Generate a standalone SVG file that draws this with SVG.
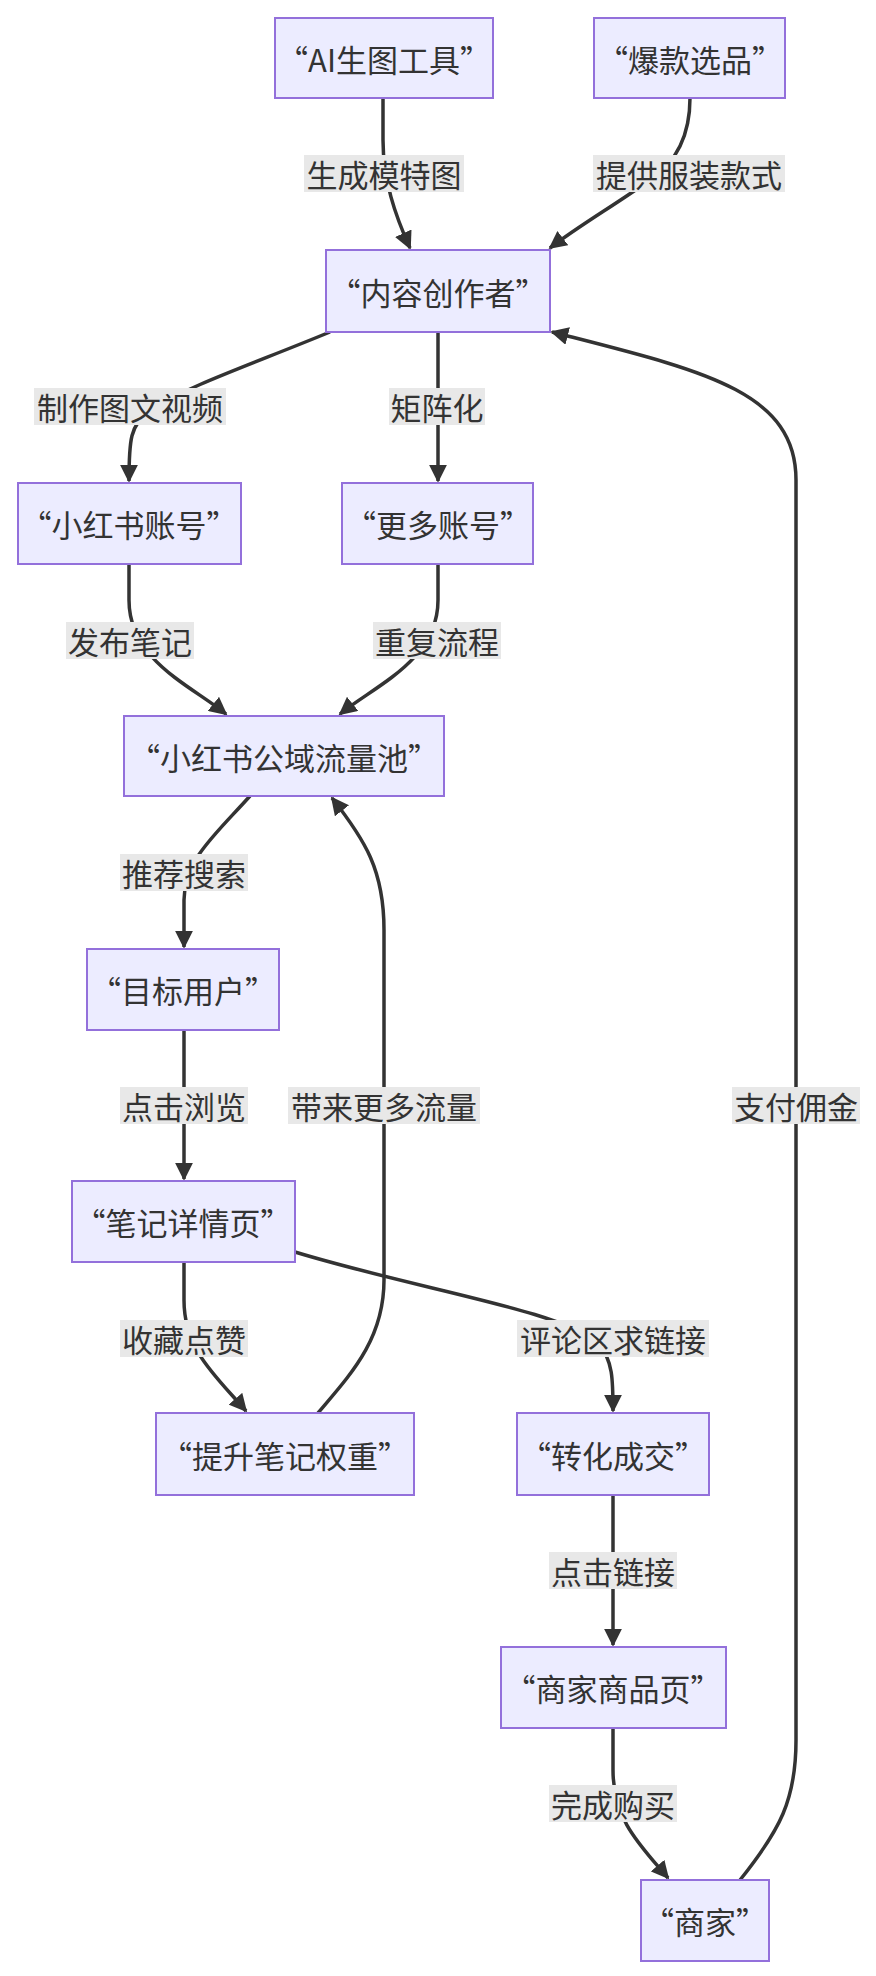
<svg xmlns="http://www.w3.org/2000/svg" width="876" height="1976" viewBox="0 0 876 1976">
<style>
.n rect{fill:#ECECFF;stroke:#9370DB;stroke-width:2}
text{font-family:"Noto Sans CJK SC","Liberation Sans",sans-serif;font-size:31px;fill:#333;text-anchor:middle;dominant-baseline:central}
.e path{fill:none;stroke:#333;stroke-width:3.5}
.l rect{fill:#e8e8e8}
</style>
<defs><marker id="a" viewBox="0 0 10 10" refX="9" refY="5" markerWidth="18" markerHeight="18" markerUnits="userSpaceOnUse" orient="auto"><path d="M0,0L10,5L0,10z" fill="#333"/></marker></defs>
<rect width="876" height="1976" fill="#fff"/>
<g class="e" marker-end="url(#a)">
<path d="M383,98 L383,140 C383,180 395,215 410,248" marker-end="url(#a)"/>
<path d="M690,98 C690,130 680,160 650,180 C615,205 580,225 550,248" marker-end="url(#a)"/>
<path d="M330,332 C250,365 190,385 150,410 C130,425 129,440 129,481" marker-end="url(#a)"/>
<path d="M438,332 L438,481" marker-end="url(#a)"/>
<path d="M129,564 L129,600 C129,660 190,685 226,714" marker-end="url(#a)"/>
<path d="M438,564 L438,600 C438,660 376,685 340,714" marker-end="url(#a)"/>
<path d="M250,796 C215,835 184,860 184,900 L184,947" marker-end="url(#a)"/>
<path d="M184,1030 L184,1179" marker-end="url(#a)"/>
<path d="M184,1262 L184,1300 C184,1350 215,1375 246,1411" marker-end="url(#a)"/>
<path d="M318,1413 C350,1375 384,1340 384,1280 L384,930 C384,870 365,840 332,798" marker-end="url(#a)"/>
<path d="M295,1252 C420,1290 560,1310 598,1343 C613,1360 613,1380 613,1411" marker-end="url(#a)"/>
<path d="M613,1495 L613,1645" marker-end="url(#a)"/>
<path d="M613,1728 L613,1770 C613,1820 640,1845 668,1878" marker-end="url(#a)"/>
<path d="M740,1880 C780,1830 796,1800 796,1740 L796,480 C796,390 700,370 552,332" marker-end="url(#a)"/>
</g>
<g class="l">
<rect x="304" y="155" width="160" height="37"/><text x="384" y="173">生成模特图</text>
<rect x="593" y="155" width="192" height="37"/><text x="689" y="173">提供服装款式</text>
<rect x="34" y="388" width="192" height="37"/><text x="130" y="406">制作图文视频</text>
<rect x="389" y="388" width="96" height="37"/><text x="437" y="406">矩阵化</text>
<rect x="66" y="622" width="128" height="37"/><text x="130" y="640">发布笔记</text>
<rect x="373" y="622" width="128" height="37"/><text x="437" y="640">重复流程</text>
<rect x="120" y="854" width="128" height="37"/><text x="184" y="872">推荐搜索</text>
<rect x="120" y="1087" width="128" height="37"/><text x="184" y="1105">点击浏览</text>
<rect x="288" y="1087" width="192" height="37"/><text x="384" y="1105">带来更多流量</text>
<rect x="732" y="1087" width="128" height="37"/><text x="796" y="1105">支付佣金</text>
<rect x="120" y="1320" width="128" height="37"/><text x="184" y="1338">收藏点赞</text>
<rect x="517" y="1320" width="192" height="37"/><text x="613" y="1338">评论区求链接</text>
<rect x="549" y="1552" width="128" height="37"/><text x="613" y="1570">点击链接</text>
<rect x="549" y="1785" width="128" height="37"/><text x="613" y="1803">完成购买</text>
</g>
<g id="n1" class="n"><rect x="275" y="18" width="218" height="80"/><text x="384" y="58">“AI生图工具”</text></g>
<g id="n2" class="n"><rect x="594" y="18" width="191" height="80"/><text x="690" y="58">“爆款选品”</text></g>
<g id="n3" class="n"><rect x="326" y="250" width="224" height="82"/><text x="438" y="291">“内容创作者”</text></g>
<g id="n4" class="n"><rect x="18" y="483" width="223" height="81"/><text x="129" y="523">“小红书账号”</text></g>
<g id="n5" class="n"><rect x="342" y="483" width="191" height="81"/><text x="438" y="523">“更多账号”</text></g>
<g id="n6" class="n"><rect x="124" y="716" width="320" height="80"/><text x="284" y="756">“小红书公域流量池”</text></g>
<g id="n7" class="n"><rect x="87" y="949" width="192" height="81"/><text x="183" y="989">“目标用户”</text></g>
<g id="n8" class="n"><rect x="72" y="1181" width="223" height="81"/><text x="183" y="1221">“笔记详情页”</text></g>
<g id="n9" class="n"><rect x="156" y="1413" width="258" height="82"/><text x="285" y="1454">“提升笔记权重”</text></g>
<g id="n10" class="n"><rect x="517" y="1413" width="192" height="82"/><text x="613" y="1454">“转化成交”</text></g>
<g id="n11" class="n"><rect x="501" y="1647" width="225" height="81"/><text x="613" y="1687">“商家商品页”</text></g>
<g id="n12" class="n"><rect x="641" y="1880" width="128" height="81"/><text x="705" y="1920">“商家”</text></g>
</svg>
